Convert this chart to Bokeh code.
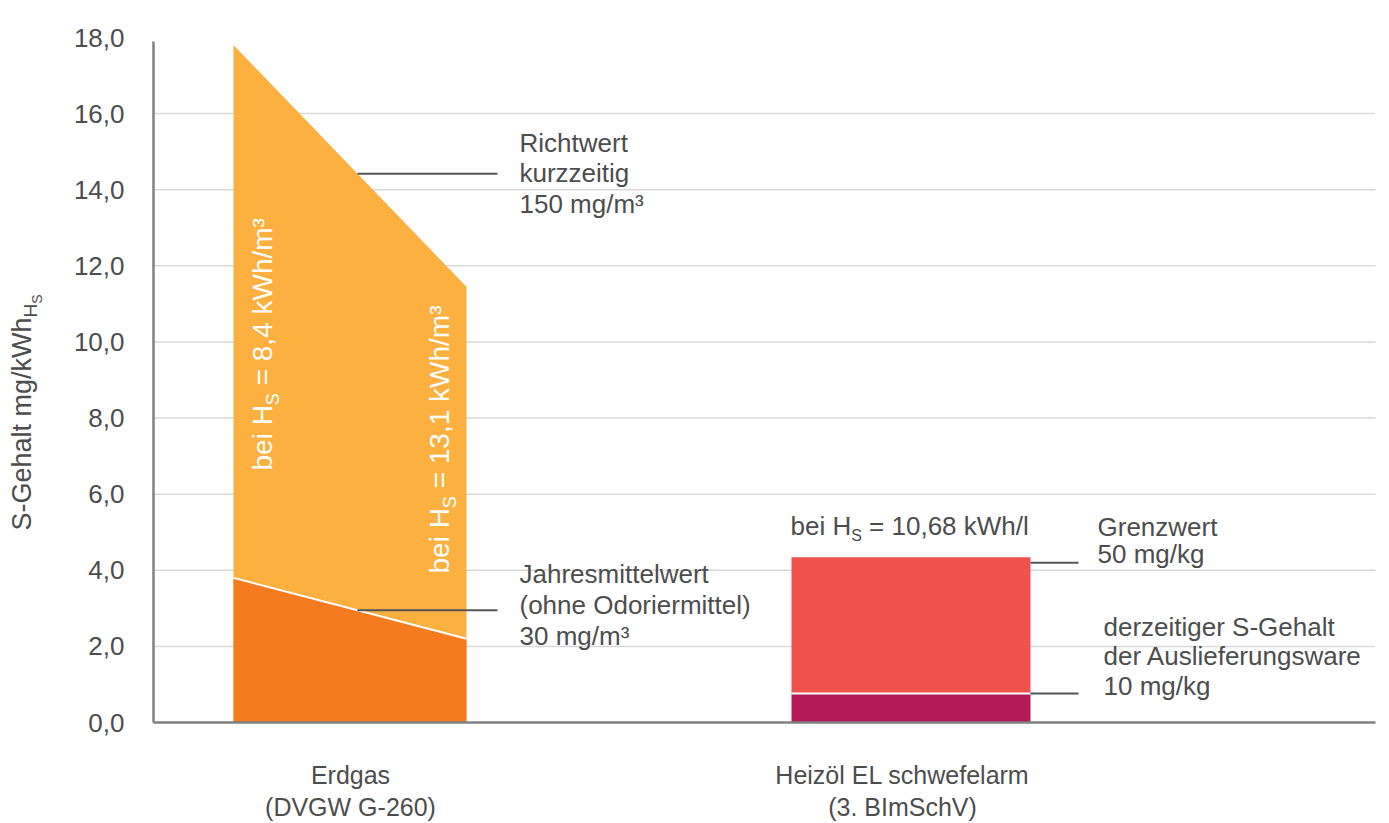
from math import pi
import numpy as np
from bokeh.plotting import figure
from bokeh.models import Range1d, FixedTicker, Label
from bokeh.embed import file_html
from bokeh.resources import INLINE

# ---------------- data ----------------
y_ticks = [0, 2, 4, 6, 8, 10, 12, 14, 16, 18]
y_tick_labels = ["0,0", "2,0", "4,0", "6,0", "8,0", "10,0", "12,0", "14,0", "16,0", "18,0"]
categories = ["Erdgas\n(DVGW G-260)", "Heizöl EL schwefelarm\n(3. BImSchV)"]

# Erdgas: values at H_S = 8,4 kWh/m3 (left edge) and 13,1 kWh/m3 (right edge)
erdgas_richtwert = [17.8, 11.45]      # Richtwert kurzzeitig 150 mg/m3
erdgas_jahresmittel = [3.8, 2.2]      # Jahresmittelwert 30 mg/m3
# Heizöl EL schwefelarm at H_S = 10,68 kWh/l
heizoel_grenzwert = 4.34              # 50 mg/kg
heizoel_derzeit = 0.76                # 10 mg/kg

# ---------------- layout ----------------
W_PX, H_PX = 1388, 822
AX, FT, FB, FR = 153, 37, 722, 1375     # axis x, y=18 / y=0 rows, grid right end (page px)
YMAX = 18
K = YMAX / (FB - FT)
BASE = 0.37                             # baseline correction (fraction of font size)

def dx(px):
    return px - AX

def dy(py):
    return (FB - py) * K

erdgas_x = [80, 313]          # left / right edge of Erdgas shape
heiz_x = [638, 877]           # left / right edge of Heizöl bar
cat_ticks = [197, 749]

LIGHT_OR = "#FBB040"
DARK_OR = "#F47B20"
RED = "#EF524D"
CRIMSON = "#B31A57"
TXT = "#4d4d4d"
FONT = "Liberation Sans"

p = figure(width=W_PX, height=H_PX, x_range=Range1d(dx(0), dx(W_PX)), y_range=Range1d(dy(H_PX), dy(0)),
           output_backend="svg", toolbar_location=None,
           min_border_left=0, min_border_right=0, min_border_top=0, min_border_bottom=0)
p.outline_line_color = None
p.background_fill_color = "white"
p.border_fill_color = "white"
p.grid.visible = False

# grid lines (drawn first, under the shapes)
grid_y = y_ticks[1:-1]
p.segment(x0=[0] * len(grid_y), y0=grid_y, x1=[dx(FR)] * len(grid_y), y1=grid_y,
          color="#d9d9d9", line_width=1.5)

# axes
p.yaxis.ticker = FixedTicker(ticks=y_ticks)
p.yaxis.major_label_overrides = {float(t): l for t, l in zip(y_ticks, y_tick_labels)}
p.yaxis.fixed_location = 0
p.yaxis.bounds = (0, 17.9)
p.xaxis.ticker = FixedTicker(ticks=cat_ticks)
p.xaxis.major_label_overrides = {float(t): c for t, c in zip(cat_ticks, categories)}
p.xaxis.fixed_location = 0
p.xaxis.bounds = (0, dx(FR))
for ax in (p.xaxis, p.yaxis):
    ax.axis_line_color = "#808080"
    ax.axis_line_width = 2.5
    ax.major_tick_out = 0
    ax.major_tick_in = 0
    ax.minor_tick_out = 0
    ax.minor_tick_in = 0
    ax.major_label_text_font = FONT
    ax.major_label_text_color = TXT
p.yaxis.major_label_text_font_size = "26px"
p.xaxis.major_label_text_font_size = "25px"
p.yaxis.major_label_standoff = 29
p.xaxis.major_label_standoff = 38
p.xaxis.major_label_text_line_height = 1.15

# ---------------- marks ----------------
ex = [erdgas_x[0], erdgas_x[0], erdgas_x[1], erdgas_x[1]]
p.patch(ex, [0, erdgas_richtwert[0], erdgas_richtwert[1], 0], color=LIGHT_OR, line_width=0)
p.patch(ex, [0, erdgas_jahresmittel[0], erdgas_jahresmittel[1], 0], color=DARK_OR, line_width=0)
p.line(erdgas_x, erdgas_jahresmittel, color="white", line_width=2)

p.quad(left=heiz_x[0], right=heiz_x[1], bottom=0, top=heizoel_derzeit, color=CRIMSON, line_width=0)
p.quad(left=heiz_x[0], right=heiz_x[1], bottom=heizoel_derzeit, top=heizoel_grenzwert, color=RED, line_width=0)
p.segment(x0=[heiz_x[0]], y0=[heizoel_derzeit], x1=[heiz_x[1]], y1=[heizoel_derzeit], color="white", line_width=2)

# leader lines
lx0, lx1 = dx(357), dx(497)
y_rw = float(np.interp(lx0, erdgas_x, erdgas_richtwert))
y_jm = float(np.interp(lx0, erdgas_x, erdgas_jahresmittel))
p.segment(x0=[lx0, lx0, heiz_x[1], heiz_x[1]], y0=[y_rw, y_jm, 4.2, heizoel_derzeit],
          x1=[lx1, lx1, dx(1078), dx(1078)], y1=[y_rw, y_jm, 4.2, heizoel_derzeit],
          color="#555555", line_width=2)

# ---------------- text ----------------
W = {"b": 556, "e": 556, "i": 222, " ": 278, "H": 722, "S": 667, "=": 584, "8": 556, ",": 278,
     "4": 556, "k": 500, "W": 944, "h": 556, "/": 278, "m": 833, "³": 333, "1": 556, "3": 556,
     "0": 556, "6": 556, "l": 222, "-": 333, "G": 778, "a": 556, "t": 278, "g": 556}

def tw(s, size):
    return sum(W.get(c, 556) for c in s) * size / 1000.0

def txt(s, px, py, size=26, color=TXT, angle=0):
    # (px, py): start of the baseline on the page
    if angle == 0:
        py = py - BASE * size
    else:
        px = px - BASE * size
    p.add_layout(Label(x=dx(px), y=dy(py), text=s, text_font=FONT, text_font_size=f"{size}px",
                       text_color=color, angle=angle, text_align="left", text_baseline="alphabetic"))

def split_lead(s, size):
    lead = len(s) - len(s.lstrip(" "))
    return s.lstrip(" "), tw(" " * lead, size)

def horiz(pieces, px, py, color=TXT):
    # pieces: (text, size, baseline shift down in px)
    x = px
    for s, size, sh in pieces:
        t, adv = split_lead(s, size)
        x += adv
        txt(t, x, py + sh, size, color)
        x += tw(t, size)

def vert(pieces, px, py, color=TXT):
    # rotated 90deg ccw; baseline at px, starting at py going up; shift to the right = lower
    y = py
    for s, size, sh in pieces:
        t, adv = split_lead(s, size)
        y -= adv
        txt(t, px + sh, y, size, color, angle=pi / 2)
        y -= tw(t, size)

# y-axis title
vert([("S-Gehalt mg/kWh", 27, 0), ("H", 19, 6), ("S", 14, 11)], 31, 530)

# rotated labels in Erdgas shape
vert([("bei H", 28, 0), ("S", 18, 7), (" = 8,4 kWh/m³", 28, 0)], 272, 470, color="white")
vert([("bei H", 28, 0), ("S", 18, 7), (" = 13,1 kWh/m³", 28, 0)], 449, 573, color="white")

# annotations
for i, s in enumerate(["Richtwert", "kurzzeitig", "150 mg/m³"]):
    txt(s, 519, 152 + 30.5 * i)
for i, s in enumerate(["Jahresmittelwert", "(ohne Odoriermittel)", "30 mg/m³"]):
    txt(s, 519, 583 + 31 * i)
for i, s in enumerate(["Grenzwert", "50 mg/kg"]):
    txt(s, 1097, 536 + 27 * i)
for i, s in enumerate(["derzeitiger S-Gehalt", "der Auslieferungsware", "10 mg/kg"]):
    txt(s, 1103, 636 + 29.5 * i)
horiz([("bei H", 26, 0), ("S", 16, 6), (" = 10,68 kWh/l", 26, 0)], 790, 535)

open("out.html", "w").write(file_html(p, INLINE))
